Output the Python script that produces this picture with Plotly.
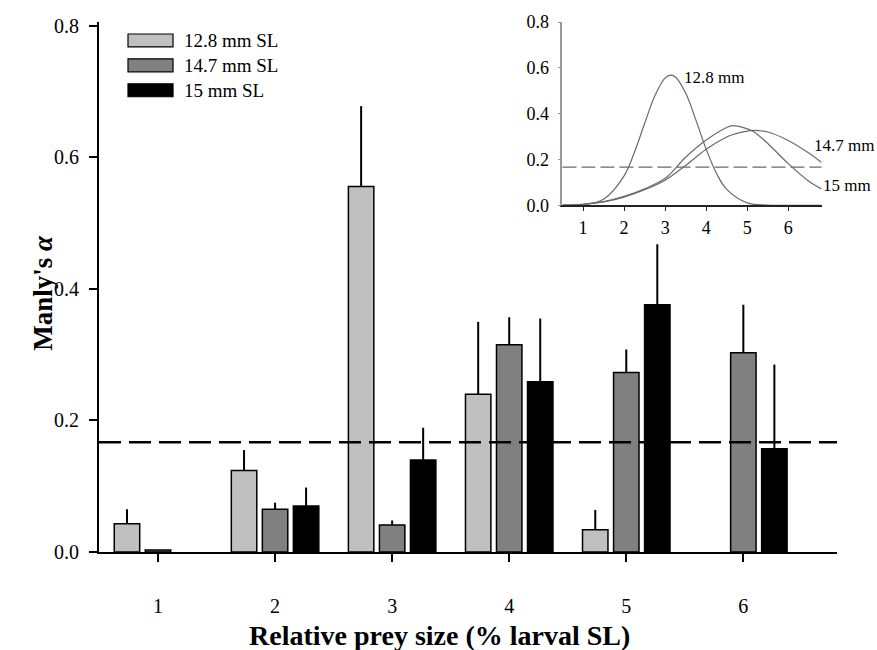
import plotly.graph_objects as go

# ---------------- data ----------------
categories = [1, 2, 3, 4, 5, 6]
tick_labels = ["1", "2", "3", "4", "5", "6"]

series_names = ["12.8 mm SL", "14.7 mm SL", "15 mm SL"]
alpha_128 = [0.043, 0.124, 0.556, 0.240, 0.034, None]
err_128 = [0.022, 0.031, 0.122, 0.110, 0.030, None]
alpha_147 = [0.003, 0.065, 0.041, 0.315, 0.273, 0.303]
err_147 = [0.0, 0.010, 0.007, 0.042, 0.035, 0.073]
alpha_15 = [None, 0.070, 0.140, 0.259, 0.376, 0.157]
err_15 = [None, 0.028, 0.049, 0.096, 0.092, 0.128]

neutral_alpha = 0.167

# inset curves
inset_x_128 = [0.5, 1.0, 1.5, 2.0, 2.25, 2.5, 2.75, 3.0, 3.14, 3.25, 3.5, 3.75, 4.0, 4.25, 4.5, 5.0, 5.5, 6.0, 6.81]
inset_y_128 = [0.0, 0.003, 0.027, 0.129, 0.231, 0.357, 0.478, 0.556, 0.568, 0.560, 0.490, 0.372, 0.245, 0.140, 0.070, 0.011, 0.001, 0.0, 0.0]
inset_x_broad = [0.5, 1.0, 1.5, 2.0, 2.5, 3.0, 3.5, 4.0, 4.5, 4.64, 5.0, 5.15, 5.5, 6.0, 6.5, 6.81]
inset_y_147 = [0.001, 0.005, 0.015, 0.036, 0.068, 0.110, 0.174, 0.245, 0.298, 0.308, 0.324, 0.327, 0.320, 0.283, 0.228, 0.187]
inset_y_15 = [0.001, 0.005, 0.016, 0.039, 0.072, 0.118, 0.210, 0.285, 0.340, 0.348, 0.334, 0.322, 0.270, 0.182, 0.105, 0.072]
inset_labels = ["12.8 mm", "14.7 mm", "15 mm"]

# ---------------- style ----------------
FONT = "Liberation Serif, Times New Roman, serif"
colors = ["#c0c0c0", "#808080", "#000000"]

fig = go.Figure()
for name, vals, errs, col in zip(series_names,
                                 [alpha_128, alpha_147, alpha_15],
                                 [err_128, err_147, err_15], colors):
    fig.add_trace(go.Bar(
        x=categories, y=vals, name=name,
        marker=dict(color=col, line=dict(color="black", width=1.5)),
        error_y=dict(type="data", symmetric=False, array=errs,
                     arrayminus=[0] * len(errs), width=0, thickness=2,
                     color="black"),
        showlegend=False,
    ))

# inset lines
for ys, xs in [(inset_y_128, inset_x_128), (inset_y_147, inset_x_broad),
               (inset_y_15, inset_x_broad)]:
    fig.add_trace(go.Scatter(x=xs, y=ys, mode="lines",
                             line=dict(color="#6a6a6a", width=1.2, shape="spline"),
                             xaxis="x2", yaxis="y2", showlegend=False))

shapes = [
    dict(type="line", xref="x domain", yref="y", x0=0, x1=1,
         y0=neutral_alpha, y1=neutral_alpha, layer="above",
         line=dict(color="black", width=2.5, dash="22px,8px")),
    dict(type="line", xref="x2 domain", yref="y2", x0=0, x1=1,
         y0=neutral_alpha, y1=neutral_alpha, layer="above",
         line=dict(color="#6a6a6a", width=1.2, dash="14px,5px")),
]

annotations = []
# manual legend
leg_rows_top = [0.9774, 0.9305, 0.8835]
for name, col, ytop in zip(series_names, colors, leg_rows_top):
    shapes.append(dict(type="rect", xref="paper", yref="paper",
                       x0=0.0393, x1=0.1003, y0=ytop - 0.0245, y1=ytop,
                       fillcolor=col, line=dict(color="black", width=1.2)))
    annotations.append(dict(xref="paper", yref="paper", x=0.1125,
                            y=ytop - 0.0125, text=name, showarrow=False,
                            xanchor="left", yanchor="middle",
                            font=dict(family=FONT, size=19, color="black")))

# inset curve labels
for lab, xx, yy in zip(inset_labels, [3.4, 6.58, 6.80], [0.56, 0.262, 0.085]):
    annotations.append(dict(xref="x2", yref="y2", x=xx, y=yy, text=lab,
                            showarrow=False, xanchor="left", yanchor="middle",
                            font=dict(family=FONT, size=17, color="black")))

# axis titles
annotations.append(dict(xref="paper", yref="paper", x=0.462, y=-0.158,
                        text="<b>Relative prey size (% larval SL)</b>",
                        showarrow=False, xanchor="center", yanchor="middle",
                        font=dict(family=FONT, size=28, color="black")))
annotations.append(dict(xref="paper", yref="paper", x=-0.076, y=0.489,
                        text="<b>Manly's <i>α</i></b>", textangle=-90,
                        showarrow=False, xanchor="center", yanchor="middle",
                        font=dict(family=FONT, size=27, color="black")))

fig.update_layout(
    width=877, height=650,
    margin=dict(l=99, r=40, t=20, b=98),
    paper_bgcolor="white", plot_bgcolor="white",
    barmode="group", bargap=0.205, bargroupgap=0.18,
    font=dict(family=FONT, size=20, color="black"),
    shapes=shapes, annotations=annotations,
    xaxis=dict(range=[0.496, 6.80], tickvals=categories, ticktext=tick_labels,
               showline=True, linecolor="black", linewidth=2,
               ticks="outside", ticklen=8, tickwidth=2, tickcolor="black",
               showgrid=False, zeroline=False, ticklabelstandoff=27,
               tickfont=dict(family=FONT, size=20)),
    yaxis=dict(range=[0, 0.806], tickvals=[0, 0.2, 0.4, 0.6, 0.8],
               ticktext=["0.0", "0.2", "0.4", "0.6", "0.8"],
               showline=True, linecolor="black", linewidth=2,
               ticks="outside", ticklen=8, tickwidth=2, tickcolor="black",
               showgrid=False, zeroline=False, ticklabelstandoff=6,
               tickfont=dict(family=FONT, size=20)),
    xaxis2=dict(domain=[0.628, 0.979], anchor="y2", range=[0.498, 6.81],
                tickvals=categories, ticktext=tick_labels,
                showline=True, linecolor="#222222", linewidth=1.5,
                ticks="outside", ticklen=4, tickwidth=1, tickcolor="#222222",
                showgrid=False, zeroline=False, ticklabelstandoff=1,
                tickfont=dict(family=FONT, size=18)),
    yaxis2=dict(domain=[0.654, 1.0], anchor="x2", range=[0, 0.8],
                tickvals=[0, 0.2, 0.4, 0.6, 0.8],
                ticktext=["0.0", "0.2", "0.4", "0.6", "0.8"],
                showline=True, linecolor="#999999", linewidth=1.5,
                ticks="outside", ticklen=3, tickwidth=1, tickcolor="#999999",
                showgrid=False, zeroline=False, ticklabelstandoff=5,
                tickfont=dict(family=FONT, size=18)),
)

fig.write_html("out.html", config={"displayModeBar": False},
               post_script="document.body.style.margin='0';document.body.style.overflow='hidden';")
